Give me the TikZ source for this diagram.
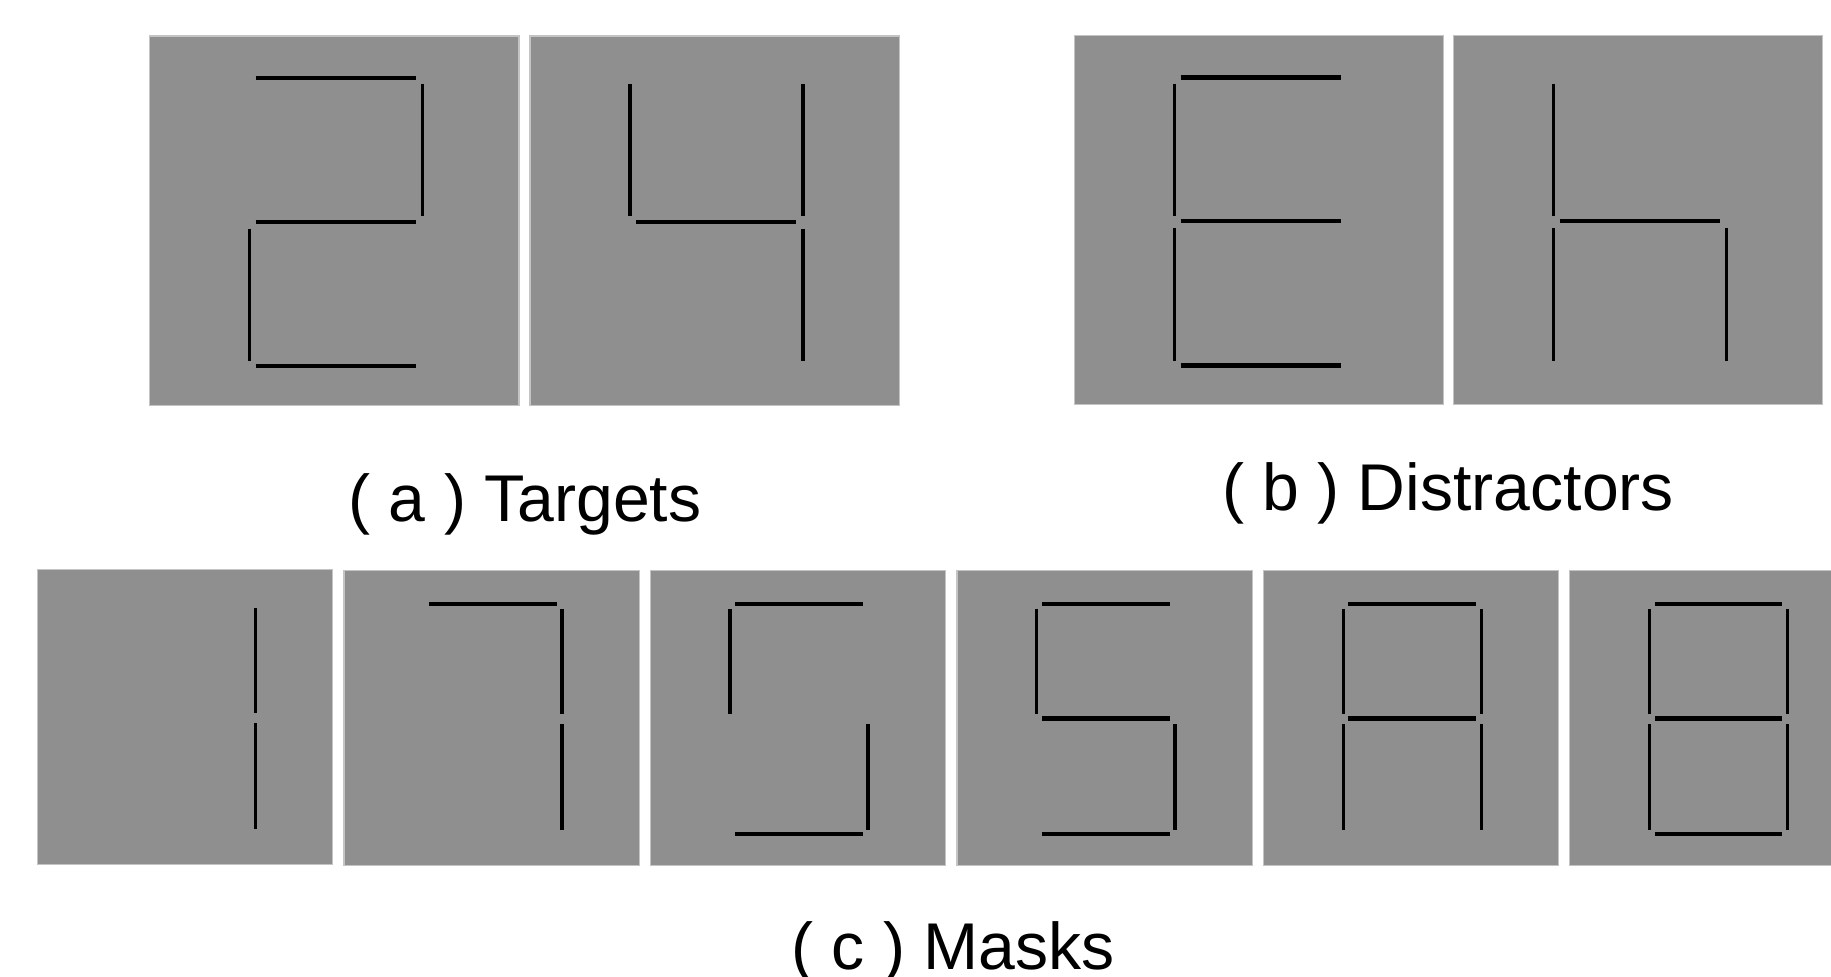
\documentclass[tikz,border=0pt]{standalone}
\usepackage{fontspec}
\setmainfont{Liberation Sans}
\usetikzlibrary{positioning}
\definecolor{panelgray}{HTML}{8F8F8F}
\definecolor{paneledge}{HTML}{C4C4C4}
\tikzstyle{panel} = [fill=panelgray, draw=paneledge, line width=0.3pt]
\tikzstyle{hseg} = [line width=1.3pt, color=black, line cap=butt]
\tikzstyle{vseg} = [line width=0.95pt, color=black, line cap=butt]
\tikzstyle{caption} = [anchor=base, inner sep=0pt, font=\fontsize{18.8}{22}\selectfont]

% grey square at (x,y) with side s; lit bars (a,g,d) and lit sides (b,c,e,f)
\newcommand{\segpanel}[5]{%
  \begin{scope}[shift={(#1,#2)}, scale=#3]
    \path[panel] (0,0) rectangle (1,1);
    \coordinate (a1) at (0.288,0.114); \coordinate (a2) at (0.722,0.114);
    \coordinate (g1) at (0.288,0.504); \coordinate (g2) at (0.722,0.504);
    \coordinate (d1) at (0.288,0.895); \coordinate (d2) at (0.722,0.895);
    \coordinate (f1) at (0.271,0.131); \coordinate (f2) at (0.271,0.489);
    \coordinate (e1) at (0.271,0.523); \coordinate (e2) at (0.271,0.882);
    \coordinate (b1) at (0.740,0.131); \coordinate (b2) at (0.740,0.489);
    \coordinate (c1) at (0.740,0.523); \coordinate (c2) at (0.740,0.882);
    \foreach \sg in {#4} \draw[hseg] (\sg1) -- (\sg2);
    \foreach \sg in {#5} \draw[vseg] (\sg1) -- (\sg2);
  \end{scope}}

\begin{document}
\begin{tikzpicture}[x=0.01cm, y=-0.01cm]
    % stimulus panels, sizes in pixels
    \clip (0,0) rectangle (1831,977);

    \segpanel{149.5}{36}{369.5}{a,g,d}{b,e}
    \segpanel{530}{36}{369.5}{g}{f,b,c}
    \node[caption] (targets) at (525,521.7) {( a ) Targets};

    \segpanel{1074.3}{35.3}{369.5}{a,g,d}{f,e}
    \segpanel{1453.4}{35.3}{369.5}{g}{f,e,c}
    \node[caption] (distractors) at (1448,510.7) {( b ) Distractors};

    \segpanel{37.3}{569.3}{295.5}{}{b,c}
    \segpanel{344}{570.3}{295.5}{a}{b,c}
    \segpanel{650.2}{570.3}{295.5}{a,d}{f,c}
    \segpanel{957}{570.3}{295.5}{a,g,d}{f,c}
    \segpanel{1263.4}{570.3}{295.5}{a,g}{f,b,e,c}
    \segpanel{1569.8}{570.3}{295.5}{a,g,d}{b,c,e,f}
    \node[caption] (masks) at (953,969.3) {( c ) Masks};
\end{tikzpicture}
\end{document}
